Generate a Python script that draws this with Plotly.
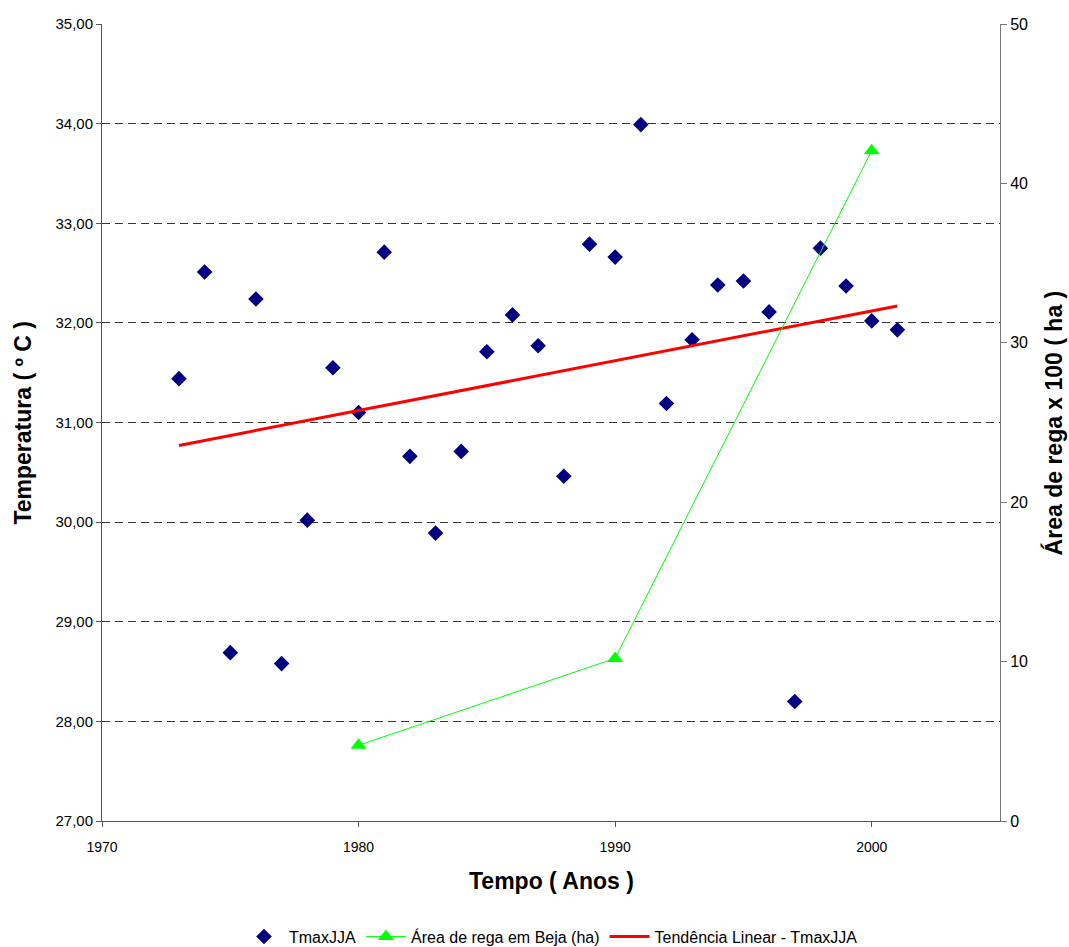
import plotly.graph_objects as go

years = list(range(1973, 2002))
tmax_jja = [31.44, 32.51, 28.69, 32.24, 28.58, 30.02, 31.55, 31.10, 32.71, 30.66,
            29.89, 30.71, 31.71, 32.08, 31.77, 30.46, 32.79, 32.66, 33.99, 31.19,
            31.83, 32.38, 32.42, 32.11, 28.20, 32.75, 32.37, 32.02, 31.93]

area_years = [1980, 1990, 2000]
area_values = [4.75, 10.2, 42.05]

trend_years = [1973, 2001]
trend_values = [30.77, 32.17]

left_ticks = [27, 28, 29, 30, 31, 32, 33, 34, 35]
right_ticks = [0, 10, 20, 30, 40, 50]
x_ticks = [1970, 1980, 1990, 2000]

FONT = "Liberation Sans, Arial, sans-serif"

fig = go.Figure()
fig.add_trace(go.Scatter(
    x=years, y=tmax_jja, mode="markers", name="TmaxJJA",
    marker=dict(symbol="diamond", size=12, color="#000080"),
    yaxis="y"))
fig.add_trace(go.Scatter(
    x=area_years, y=area_values, mode="lines+markers", name="Área de rega em Beja (ha)",
    line=dict(color="#00FF00", width=1),
    marker=dict(symbol="triangle-up", size=14, color="#00FF00"),
    yaxis="y2"))
fig.add_trace(go.Scatter(
    x=trend_years, y=trend_values, mode="lines", name="Tendência Linear - TmaxJJA",
    line=dict(color="#FF0000", width=3),
    yaxis="y"))

fig.update_layout(
    width=1069, height=947,
    margin=dict(l=102, r=69, t=24, b=126, autoexpand=False),
    paper_bgcolor="white", plot_bgcolor="white",
    separators=",.",
    font=dict(family=FONT, size=14, color="#000"),
    showlegend=True,
    legend=dict(orientation="h", x=0.5, xanchor="center", y=-0.145, yanchor="middle",
                font=dict(size=16), traceorder="normal", itemwidth=40),
    xaxis=dict(range=[1970, 2005], tickvals=x_ticks, showgrid=False, zeroline=False,
               showline=True, linecolor="#555", linewidth=1,
               ticks="outside", ticklen=5, tickcolor="#555", ticklabelstandoff=8,
               tickfont=dict(size=14)),
    yaxis=dict(range=[27, 35], tickvals=left_ticks, tickformat=".2f",
               showgrid=True, gridcolor="#333", griddash="8px,5px", gridwidth=1,
               zeroline=False, showline=True, linecolor="#555", linewidth=1,
               ticks="outside", ticklen=5, tickcolor="#555",
               tickfont=dict(size=15)),
    yaxis2=dict(range=[0, 50], tickvals=right_ticks, overlaying="y", side="right",
                showgrid=False, zeroline=False, showline=True, linecolor="#777",
                linewidth=1, ticks="outside", ticklen=6, tickcolor="#777",
                tickfont=dict(size=16)),
    annotations=[
        dict(text="<b>Temperatura ( º C )</b>", xref="paper", yref="paper",
             x=-0.089, y=0.5, textangle=-90, showarrow=False,
             xanchor="center", yanchor="middle", font=dict(size=23)),
        dict(text="<b>Área de rega x 100 ( ha )</b>", xref="paper", yref="paper",
             x=1.06, y=0.5, textangle=-90, showarrow=False,
             xanchor="center", yanchor="middle", font=dict(size=23)),
        dict(text="<b>Tempo ( Anos )</b>", xref="paper", yref="paper",
             x=0.5, y=-0.0757, showarrow=False,
             xanchor="center", yanchor="middle", font=dict(size=23)),
    ],
)

fig.write_html("out.html")
